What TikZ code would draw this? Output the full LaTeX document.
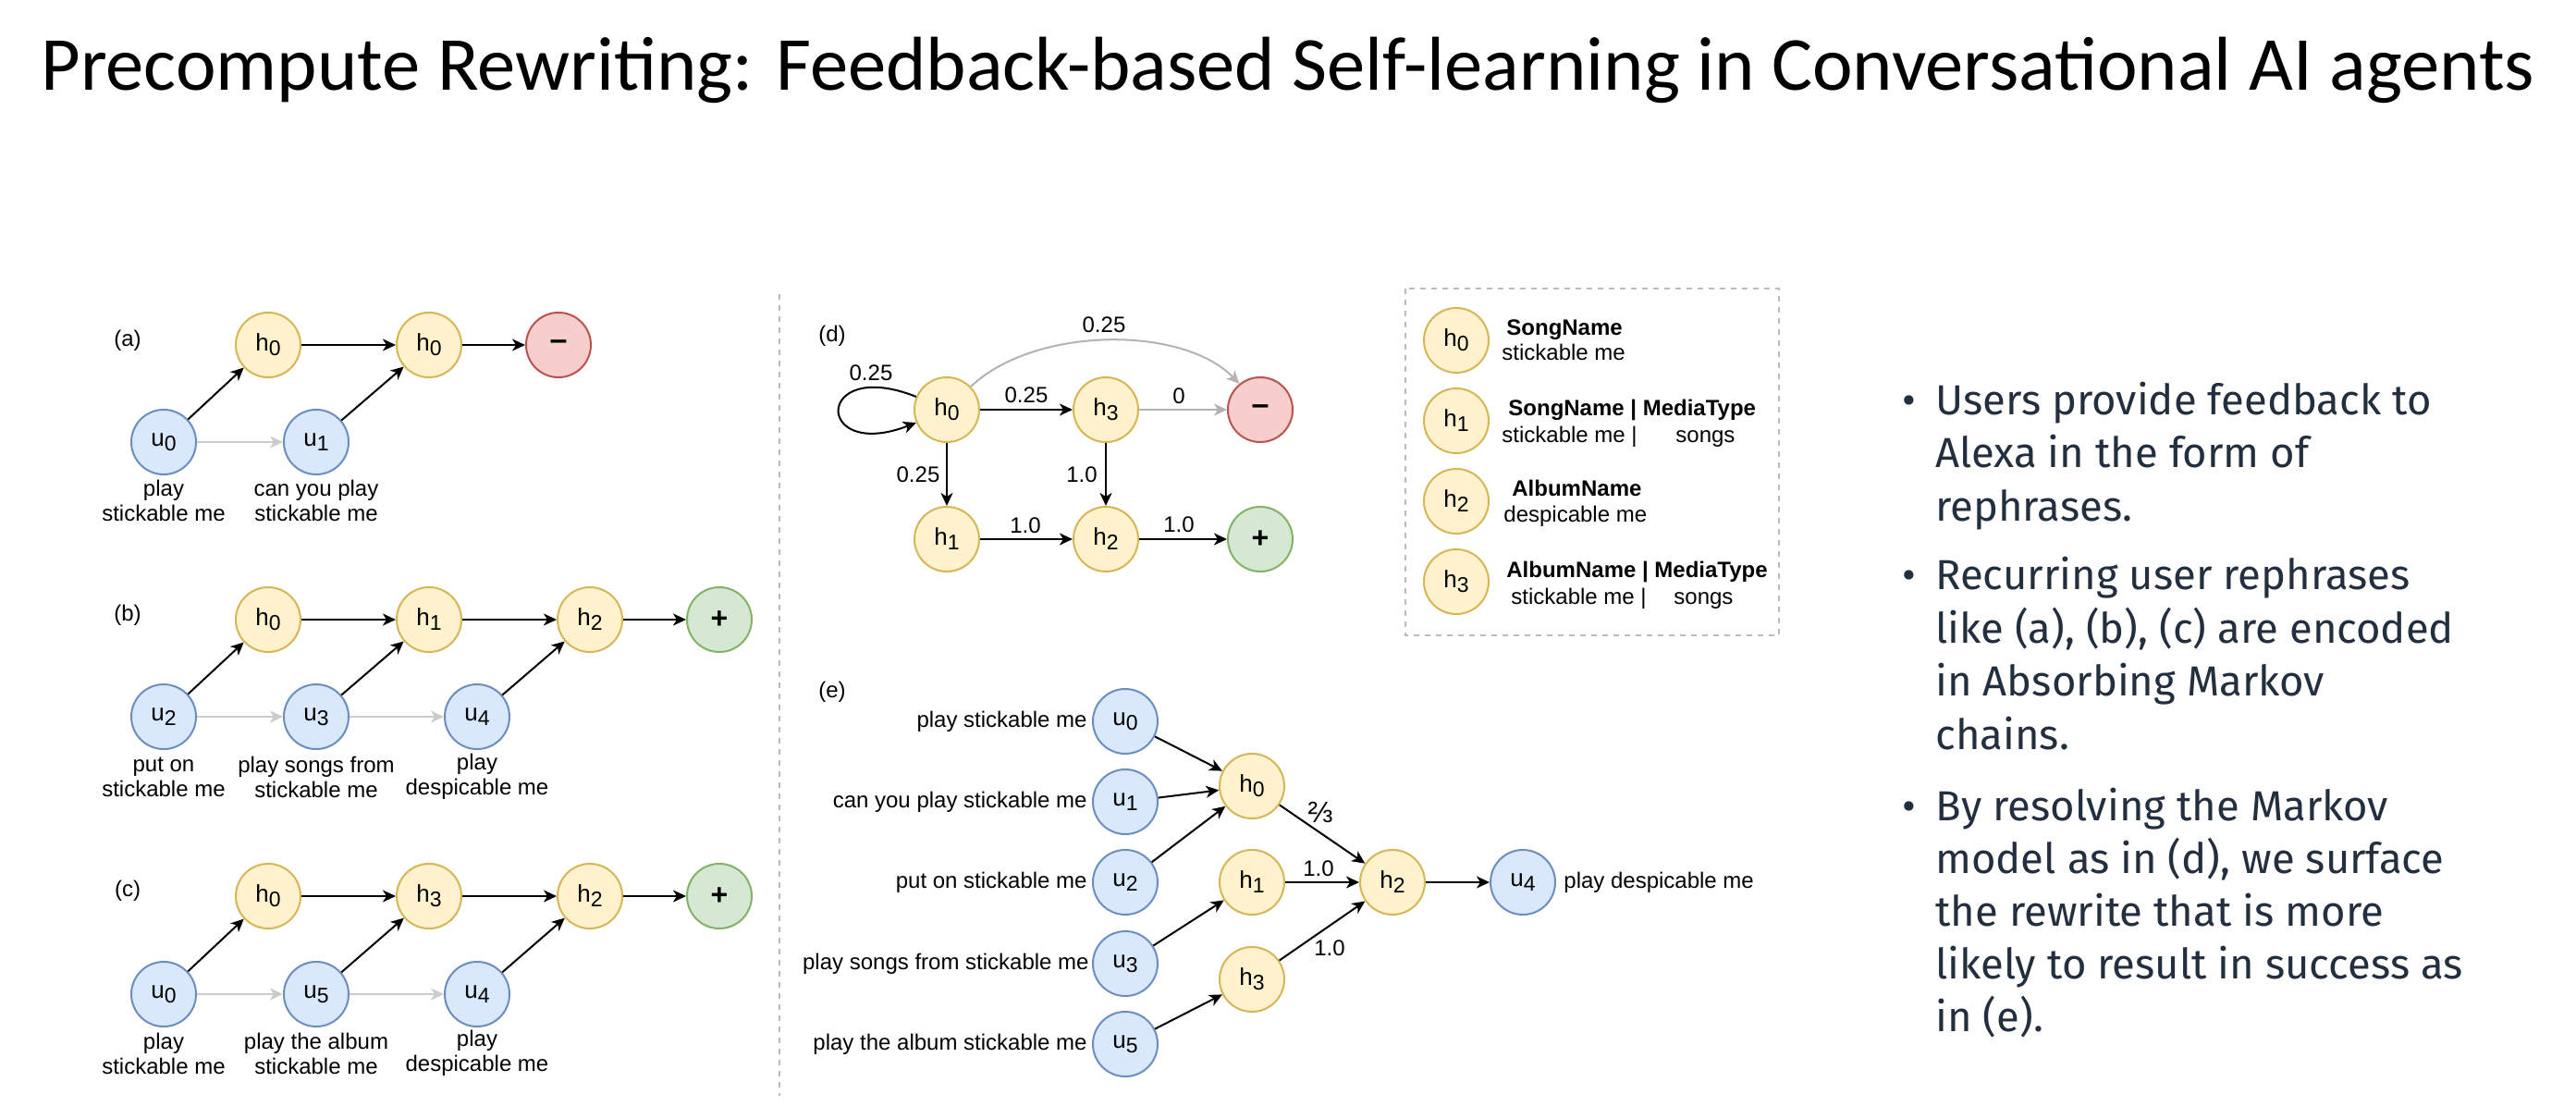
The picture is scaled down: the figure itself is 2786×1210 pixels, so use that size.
\documentclass[tikz,border=0pt]{standalone}
\usepackage{fontspec}
\setmainfont{Liberation Sans}
\newfontfamily\titlefont{Carlito}
\newfontfamily\bulletfont{Fira Sans}
\usetikzlibrary{arrows.meta}
\definecolor{yfill}{HTML}{FFF2CC}\definecolor{ydraw}{HTML}{D6B656}
\definecolor{bfill}{HTML}{DAE8FC}\definecolor{bdraw}{HTML}{6C8EBF}
\definecolor{rfill}{HTML}{F8CECC}\definecolor{rdraw}{HTML}{B85450}
\definecolor{gfill}{HTML}{D5E8D4}\definecolor{gdraw}{HTML}{82B366}
\definecolor{lightarrow}{HTML}{CCCCCC}
\definecolor{midarrow}{HTML}{B3B3B3}
\definecolor{inkc}{HTML}{232F3E}
\definecolor{sepc}{HTML}{BBBBBB}
\newcommand{\sub}[2]{#1\raisebox{-2.5pt}{\fontsize{11.5}{12}\selectfont #2}}
\tikzset{
  circnode/.style={circle, minimum size=35pt, inner sep=0pt, line width=1pt, font=\fontsize{13}{15}\selectfont},
  hnode/.style={circnode, fill=yfill, draw=ydraw},
  unode/.style={circnode, fill=bfill, draw=bdraw},
  negnode/.style={circnode, fill=rfill, draw=rdraw, font=\fontsize{17}{17}\selectfont\bfseries},
  posnode/.style={circnode, fill=gfill, draw=gdraw, font=\fontsize{16}{16}\selectfont\bfseries},
  arr/.style={-{Stealth[length=7pt,width=6.5pt,inset=2pt]}, line width=1pt, draw=black},
  garr/.style={arr, draw=lightarrow},
  darr/.style={arr, draw=midarrow},
  lbl/.style={font=\fontsize{12}{13.5}\selectfont, inner sep=0pt},
  capt/.style={lbl, align=center},
  ltext/.style={lbl, anchor=west, text height=9pt, text depth=2.6pt},
  btxt/.style={font=\bulletfont\fontsize{22.7}{28.5}\selectfont, text=inkc, inner sep=0pt, anchor=base west},
  bdot/.style={font=\bulletfont\fontsize{22.7}{28.5}\selectfont, text=inkc, inner sep=0pt, anchor=base},
}
\begin{document}
\begin{tikzpicture}[x=0.5pt,y=-0.5pt]
\fill[white] (0,0) rectangle (2786,1210);
\path[use as bounding box] (0,0) rectangle (2786,1210);

% title
\node[anchor=base west, inner sep=0pt, font=\titlefont\fontsize{41.3}{48}\selectfont] (title) at (44,97)
  {Precompute Rewriting: Feedback-based Self-learning in Conversational AI agents};

% separator
\coordinate (septop) at (843,318);
\coordinate (sepbot) at (843,1185);
\draw[sepc, line width=1pt, dash pattern=on 3pt off 3pt] (septop) -- (sepbot);

% ---------- (a)
\node[lbl] (la) at (138,368) {(a)};
\node[hnode] (a1) at (290,373) {\sub{h}{0}};
\node[hnode] (a2) at (464,373) {\sub{h}{0}};
\node[negnode] (aneg) at (604,373) {--};
\node[unode] (au0) at (177,478) {\sub{u}{0}};
\node[unode] (au1) at (342,478) {\sub{u}{1}};
\node[capt] (cau0) at (177,541) {play\\stickable me};
\node[capt] (cau1) at (342,541) {can you play\\stickable me};
\draw[arr] (au0) -- (a1);
\draw[arr] (au1) -- (a2);
\draw[arr] (a1) -- (a2);
\draw[arr] (a2) -- (aneg);
\draw[garr] (au0) -- (au1);

% ---------- (b)
\node[lbl] (lb) at (138,665) {(b)};
\node[hnode] (b0) at (290,670) {\sub{h}{0}};
\node[hnode] (b1) at (464,670) {\sub{h}{1}};
\node[hnode] (b2) at (638,670) {\sub{h}{2}};
\node[posnode] (bpos) at (778,670) {+};
\node[unode] (bu2) at (177,775) {\sub{u}{2}};
\node[unode] (bu3) at (342,775) {\sub{u}{3}};
\node[unode] (bu4) at (516,775) {\sub{u}{4}};
\node[capt] (cbu2) at (177,840) {put on\\stickable me};
\node[capt] (cbu3) at (342,840) {play songs from\\stickable me};
\node[capt] (cbu4) at (516,840) {play\\despicable me};
\draw[arr] (bu2) -- (b0);
\draw[arr] (bu3) -- (b1);
\draw[arr] (bu4) -- (b2);
\draw[arr] (b0) -- (b1);
\draw[arr] (b1) -- (b2);
\draw[arr] (b2) -- (bpos);
\draw[garr] (bu2) -- (bu3);
\draw[garr] (bu3) -- (bu4);

% ---------- (c)
\node[lbl] (lc) at (138,963) {(c)};
\node[hnode] (c0) at (290,969) {\sub{h}{0}};
\node[hnode] (c1) at (464,969) {\sub{h}{3}};
\node[hnode] (c2) at (638,969) {\sub{h}{2}};
\node[posnode] (cpos) at (778,969) {+};
\node[unode] (cu0) at (177,1075) {\sub{u}{0}};
\node[unode] (cu5) at (342,1075) {\sub{u}{5}};
\node[unode] (cu4) at (516,1075) {\sub{u}{4}};
\node[capt] (ccu0) at (177,1139) {play\\stickable me};
\node[capt] (ccu5) at (342,1139) {play the album\\stickable me};
\node[capt] (ccu4) at (516,1139) {play\\despicable me};
\draw[arr] (cu0) -- (c0);
\draw[arr] (cu5) -- (c1);
\draw[arr] (cu4) -- (c2);
\draw[arr] (c0) -- (c1);
\draw[arr] (c1) -- (c2);
\draw[arr] (c2) -- (cpos);
\draw[garr] (cu0) -- (cu5);
\draw[garr] (cu5) -- (cu4);

% ---------- (d)
\node[lbl] (ld) at (900,363) {(d)};
\node[hnode] (d0) at (1024,443) {\sub{h}{0}};
\node[hnode] (d3) at (1196,443) {\sub{h}{3}};
\node[negnode] (dneg) at (1363,443) {--};
\node[hnode] (d1) at (1024,583) {\sub{h}{1}};
\node[hnode] (d2) at (1196,583) {\sub{h}{2}};
\node[posnode] (dpos) at (1363,583) {+};
\draw[arr] (d0.157) .. controls (880,385) and (880,500) .. (d0.203);
\draw[darr] (d0.44) .. controls (1120,352) and (1280,352) .. (dneg.129);
\draw[arr] (d0) -- (d3);
\draw[darr] (d3) -- (dneg);
\draw[arr] (d0) -- (d1);
\draw[arr] (d3) -- (d2);
\draw[arr] (d1) -- (d2);
\draw[arr] (d2) -- (dpos);
\node[lbl] (wloop) at (942,403) {0.25};
\node[lbl] (warc) at (1194,351) {0.25};
\node[lbl] (w03) at (1110,427) {0.25};
\node[lbl] (w3n) at (1275,428) {0};
\node[lbl] (w01) at (993,513) {0.25};
\node[lbl] (w32) at (1170,513) {1.0};
\node[lbl] (w12) at (1109,568) {1.0};
\node[lbl] (w2p) at (1275,567) {1.0};

% ---------- legend
\draw[sepc, line width=1pt, dash pattern=on 3pt off 3pt] (1520,312) rectangle (1924,687);
\node[hnode] (lg0) at (1575,368) {\sub{h}{0}};
\node[hnode] (lg1) at (1575,455) {\sub{h}{1}};
\node[hnode] (lg2) at (1575,542) {\sub{h}{2}};
\node[hnode] (lg3) at (1575,629) {\sub{h}{3}};
\node[ltext] (lt0a) at (1629,356) {\textbf{SongName}};
\node[ltext] (lt0b) at (1624,383) {stickable me};
\node[ltext] (lt1a) at (1631,443) {\textbf{SongName | MediaType}};
\node[ltext] (lt1b) at (1624,472) {stickable me |};
\node[ltext] (lt1c) at (1812,472) {songs};
\node[ltext] (lt2a) at (1635,530) {\textbf{AlbumName}};
\node[ltext] (lt2b) at (1626,558) {despicable me};
\node[ltext] (lt3a) at (1629,618) {\textbf{AlbumName | MediaType}};
\node[ltext] (lt3b) at (1634,647) {stickable me |};
\node[ltext] (lt3c) at (1810,647) {songs};

% ---------- (e)
\node[lbl] (le) at (900,748) {(e)};
\node[unode] (eu0) at (1217,780) {\sub{u}{0}};
\node[unode] (eu1) at (1217,867) {\sub{u}{1}};
\node[unode] (eu2) at (1217,954) {\sub{u}{2}};
\node[unode] (eu3) at (1217,1042) {\sub{u}{3}};
\node[unode] (eu5) at (1217,1129) {\sub{u}{5}};
\node[hnode] (eh0) at (1354,850) {\sub{h}{0}};
\node[hnode] (eh1) at (1354,954) {\sub{h}{1}};
\node[hnode] (eh3) at (1354,1059) {\sub{h}{3}};
\node[hnode] (eh2) at (1506,954) {\sub{h}{2}};
\node[unode] (eu4) at (1647,954) {\sub{u}{4}};
\node[lbl, anchor=east] (te0) at (1176,780) {play stickable me};
\node[lbl, anchor=east] (te1) at (1176,867) {can you play stickable me};
\node[lbl, anchor=east] (te2) at (1176,954) {put on stickable me};
\node[lbl, anchor=east] (te3) at (1178,1042) {play songs from stickable me};
\node[lbl, anchor=east] (te5) at (1176,1129) {play the album stickable me};
\node[lbl, anchor=west] (te4) at (1691,954) {play despicable me};
\draw[arr] (eu0) -- (eh0);
\draw[arr] (eu1) -- (eh0);
\draw[arr] (eu2) -- (eh0);
\draw[arr] (eu3) -- (eh1);
\draw[arr] (eu5) -- (eh3);
\draw[arr] (eh0) -- (eh2);
\draw[arr] (eh1) -- (eh2);
\draw[arr] (eh3) -- (eh2);
\draw[arr] (eh2) -- (eu4);
\node[lbl, font=\fontsize{16}{16}\selectfont] (wh02) at (1428,878) {⅔};
\node[lbl] (wh12) at (1426,939) {1.0};
\node[lbl] (wh32) at (1438,1025) {1.0};

% ---------- bullets
\node[bdot] (bd1) at (2065,448) {•};
\node[btxt] (l1) at (2093,448) {Users provide feedback to};
\node[btxt] (l2) at (2093,505) {Alexa in the form of};
\node[btxt] (l3) at (2093,563) {rephrases.};
\node[bdot] (bd2) at (2065,637) {•};
\node[btxt] (l4) at (2093,637) {Recurring user rephrases};
\node[btxt] (l5) at (2093,695) {like (a), (b), (c) are encoded};
\node[btxt] (l6) at (2093,752) {in Absorbing Markov};
\node[btxt] (l7) at (2093,810) {chains.};
\node[bdot] (bd3) at (2065,887) {•};
\node[btxt] (l8) at (2093,887) {By resolving the Markov};
\node[btxt] (l9) at (2093,944) {model as in (d), we surface};
\node[btxt] (l10) at (2093,1001) {the rewrite that is more};
\node[btxt] (l11) at (2093,1058) {likely to result in success as};
\node[btxt] (l12) at (2093,1115) {in (e).};
\end{tikzpicture}
\end{document}
